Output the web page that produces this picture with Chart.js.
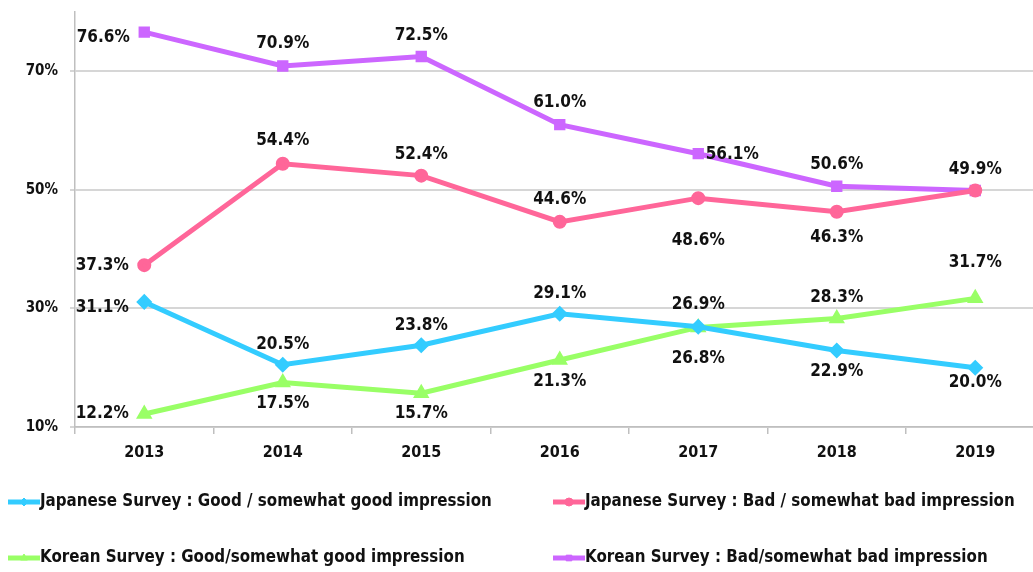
<!DOCTYPE html>
<html lang="en">
<head>
<meta charset="UTF-8">
<title>Japan-Korea Impressions</title>
<script src="https://cdn.jsdelivr.net/npm/chart.js"></script>
<style>
  html, body { margin: 0; padding: 0; background: #fff; overflow: hidden; }
  canvas { display: block; }
</style>
</head>
<body>
<canvas id="chart" width="1054" height="572"></canvas>
<script>
const years = ['2013', '2014', '2015', '2016', '2017', '2018', '2019'];
const jpGood = [31.1, 20.5, 23.8, 29.1, 26.9, 22.9, 20.0];
const jpBad = [37.3, 54.4, 52.4, 44.6, 48.6, 46.3, 49.9];
const krGood = [12.2, 17.5, 15.7, 21.3, 26.8, 28.3, 31.7];
const krBad = [76.6, 70.9, 72.5, 61.0, 56.1, 50.6, 49.9];
const yTicks = [10, 30, 50, 70];

const FONT = "'DejaVu Sans Condensed', 'DejaVu Sans', sans-serif";

// where each value label sits relative to its point [dx, dy]; null = no label
const labelOffsets = [
  [[-42, 6], [0, -20], [0, -20], [0, -20], [0, -22], [0, 21], [0, 15]],
  [[-42, 0], [0, -23], [0, -21], [0, -22], [0, 42], [0, 26], null],
  [[-42, 0], [0, 21], [0, 20], [0, 22], [0, 31], [0, -21], [0, -36]],
  [[-41, 5], [0, -22], [0, -21], [0, -22], [34, 1], [0, -22], [0, -21]]
];

const valueLabels = {
  id: 'valueLabels',
  afterDatasetsDraw(chart) {
    const ctx = chart.ctx;
    ctx.save();
    ctx.font = 'bold 17px ' + FONT;
    ctx.fillStyle = '#111';
    ctx.textAlign = 'center';
    ctx.textBaseline = 'middle';
    chart.data.datasets.forEach((ds, i) => {
      const meta = chart.getDatasetMeta(i);
      meta.data.forEach((pt, j) => {
        const off = labelOffsets[i][j];
        if (!off) return;
        ctx.fillText(ds.data[j].toFixed(1) + '%', pt.x + off[0], pt.y + off[1]);
      });
    });
    ctx.restore();
  }
};

// two-column legend under the plot
const legendSpots = [[8, 502], [553, 502], [8, 558], [553, 558]];
const bottomLegend = {
  id: 'bottomLegend',
  afterDraw(chart) {
    const ctx = chart.ctx;
    ctx.save();
    chart.data.datasets.forEach((ds, i) => {
      const [x, y] = legendSpots[i];
      ctx.strokeStyle = ds.borderColor;
      ctx.fillStyle = ds.borderColor;
      ctx.lineWidth = 5;
      ctx.beginPath();
      ctx.moveTo(x, y);
      ctx.lineTo(x + 32, y);
      ctx.stroke();
      ctx.lineWidth = 1;
      Chart.helpers.drawPoint(ctx, {
        pointStyle: ds.pointStyle, radius: 4, borderWidth: 1
      }, x + 16, y);
      ctx.font = 'bold 16.8px ' + FONT;
      ctx.fillStyle = '#111';
      ctx.textAlign = 'left';
      ctx.textBaseline = 'middle';
      ctx.fillText(ds.label, x + 32, y);
    });
    ctx.restore();
  }
};

function series(label, data, color, style, r) {
  return {
    label, data,
    borderColor: color,
    backgroundColor: color,
    pointBackgroundColor: color,
    pointBorderColor: color,
    borderWidth: 5,
    pointStyle: style,
    pointRadius: r,
    pointHoverRadius: r,
    tension: 0
  };
}

new Chart(document.getElementById('chart'), {
  type: 'line',
  data: {
    labels: years,
    datasets: [
      series('Japanese Survey : Good / somewhat good impression', jpGood, '#33CCFF', 'rectRot', 4.5),
      series('Japanese Survey : Bad / somewhat bad impression', jpBad, '#FF6699', 'circle', 4.5),
      series('Korean Survey : Good/somewhat good impression', krGood, '#99FF66', 'triangle', 4.5),
      series('Korean Survey : Bad/somewhat bad impression', krBad, '#CC66FF', 'rect', 4.5)
    ]
  },
  options: {
    responsive: false,
    animation: false,
    layout: { padding: { top: 12, bottom: 105, left: 0, right: 1 } },
    plugins: { legend: { display: false }, tooltip: { enabled: false } },
    scales: {
      x: {
        offset: true,
        afterFit(scale) { scale.height = 40; },
        grid: { offset: true, drawOnChartArea: false, tickLength: 7, color: '#bfbfbf', lineWidth: 1.5 },
        border: { color: '#bfbfbf', width: 1.5 },
        ticks: { color: '#111', padding: 9, font: { family: FONT, size: 16, weight: 'bold' } }
      },
      y: {
        min: 10,
        max: 80,
        afterFit(scale) {
          scale.width = 75;
          scale.paddingTop = 0;
          scale.paddingBottom = 0;
        },
        afterBuildTicks(scale) { scale.ticks = yTicks.map(v => ({ value: v })); },
        grid: { color: '#d6d6d6', lineWidth: 2, tickLength: 5 },
        border: { color: '#bfbfbf', width: 1.5 },
        ticks: {
          color: '#111', padding: 12,
          font: { family: FONT, size: 15, weight: 'bold' },
          callback: v => v + '%'
        }
      }
    }
  },
  plugins: [valueLabels, bottomLegend]
});
</script>
</body>
</html>
